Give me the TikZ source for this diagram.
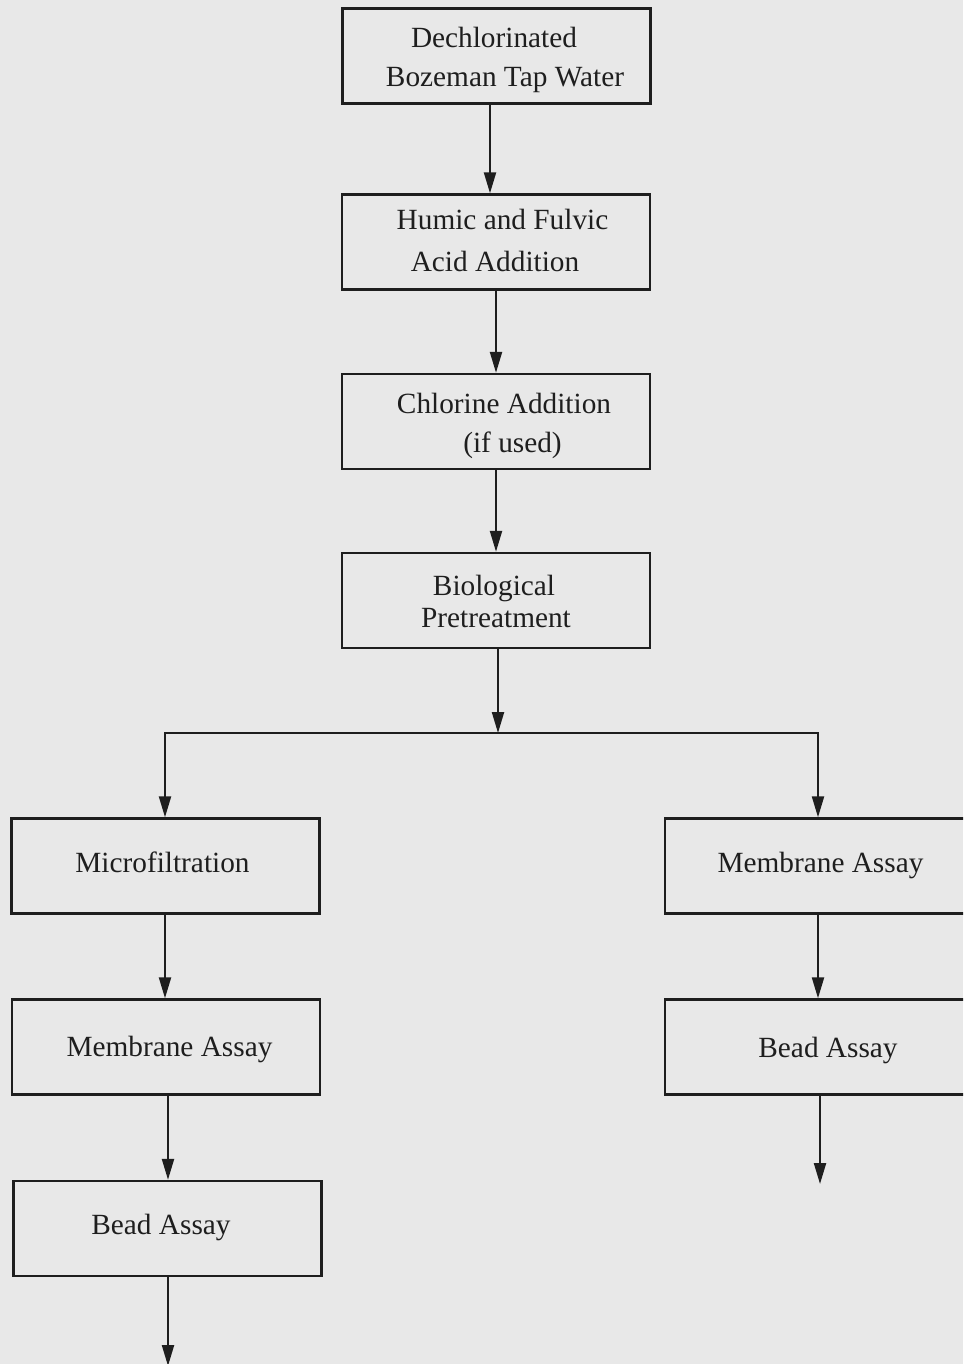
\documentclass[tikz,border=0pt]{standalone}
\usepackage{fontspec}
\setmainfont{Liberation Serif}
\usetikzlibrary{arrows.meta}
\definecolor{bg}{HTML}{E8E8E8}
\definecolor{ink}{HTML}{1E1E1E}
\begin{document}
\begin{tikzpicture}[x=1pt,y=-1pt,
  box/.style={draw=ink,line width=2.4pt,minimum width=308pt,minimum height=95pt,inner sep=0pt},
  txt/.style={anchor=base,inner sep=0pt,font=\fontsize{29.3}{36}\selectfont,text=ink},
  arr/.style={draw=ink,line width=2.2pt,-{Triangle[length=21pt,width=12pt]}},
  ln/.style={draw=ink,line width=2.2pt}]
\fill[bg] (0,0) rectangle (963,1364);
\useasboundingbox (0,0) rectangle (963,1364);
\clip (0,0) rectangle (963,1364);
% boxes
\node[box] (b1) at (496.5,56) {};
\node[box] (b2) at (496,242) {};
\node[box] (b3) at (496,421.5) {};
\node[box] (b4) at (496,600.5) {};
\node[box] (mf) at (165.5,866) {};
\node[box] (ml) at (166,1047) {};
\node[box] (bl) at (167.5,1228.5) {};
\node[box,minimum width=312pt] (mr) at (821,866) {};
\node[box,minimum width=312pt] (br) at (821,1047) {};
% texts
\node[txt] (t1a) at (494,48) {Dechlorinated};
\node[txt] (t1b) at (505,87) {Bozeman Tap Water};
\node[txt] (t2a) at (502.5,230) {Humic and Fulvic};
\node[txt] (t2b) at (495,271) {Acid Addition};
\node[txt] (t3a) at (504,413) {Chlorine Addition};
\node[txt] (t3b) at (512.5,452) {(if used)};
\node[txt] (t4a) at (494,595) {Biological};
\node[txt] (t4b) at (496,627) {Pretreatment};
\node[txt] (tmf) at (162.5,872) {Microfiltration};
\node[txt] (tml) at (169.5,1056) {Membrane Assay};
\node[txt] (tbl) at (161,1234) {Bead Assay};
\node[txt] (tmr) at (820.5,872) {Membrane Assay};
\node[txt] (tbr) at (828,1057) {Bead Assay};
% connectors
\coordinate (split) at (498,733);
\coordinate (lc) at (165,733);
\coordinate (rc) at (818,733);
\coordinate (endr) at (820,1184);
\coordinate (endl) at (168,1366);
\draw[arr] (b1.south -| 490,0) -- (b2.north -| 490,0);
\draw[arr] (b2.south -| 496,0) -- (b3.north -| 496,0);
\draw[arr] (b3.south -| 496,0) -- (b4.north -| 496,0);
\draw[arr] (b4.south -| split) -- (split);
\draw[ln,line cap=rect] (lc) -- (rc);
\draw[arr] (lc) -- (mf.north -| lc);
\draw[arr] (rc) -- (mr.north -| rc);
\draw[arr] (mf.south -| lc) -- (ml.north -| lc);
\draw[arr] (mr.south -| rc) -- (br.north -| rc);
\draw[arr] (ml.south -| 168,0) -- (bl.north -| 168,0);
\draw[arr] (br.south -| endr) -- (endr);
\draw[arr] (bl.south -| endl) -- (endl);
\end{tikzpicture}
\end{document}
